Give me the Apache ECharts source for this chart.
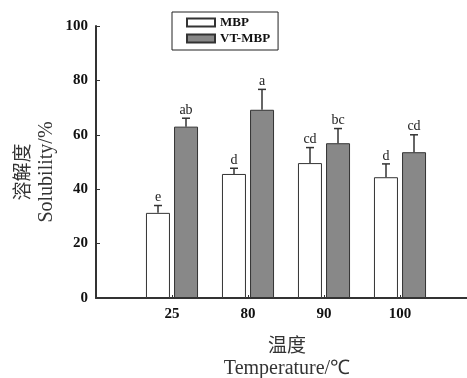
<!DOCTYPE html>
<html>
<head>
<meta charset="utf-8">
<script src="https://cdn.jsdelivr.net/npm/echarts@6/dist/echarts.min.js"></script>
<style>html,body{margin:0;padding:0;background:#fff;}#c{width:467px;height:378px;}</style>
</head>
<body>
<div id="c"></div>
<script>
const categories = ['', '25', '80', '90', '100', ''];
const mbpValues = [null, 31.3, 45.6, 49.6, 44.4, null];
const vtValues  = [null, 63.0, 69.2, 56.9, 53.6, null];
const mbpErrTop = [null, 34.0, 47.7, 55.3, 49.3, null];
const vtErrTop  = [null, 66.1, 76.7, 62.3, 60.0, null];
const mbpLetters = ['', 'e', 'd', 'cd', 'd', ''];
const vtLetters  = ['', 'ab', 'a', 'bc', 'cd', ''];
const yTicks = [0, 20, 40, 60, 80, 100];

const serif = '"Liberation Serif","Times New Roman",serif';
const cjk = '"Noto Sans CJK SC",sans-serif';

const errData = [];
categories.forEach((c, i) => {
  if (mbpValues[i] != null) errData.push([i, mbpValues[i], mbpErrTop[i], mbpLetters[i], -1]);
  if (vtValues[i] != null) errData.push([i, vtValues[i], vtErrTop[i], vtLetters[i], 1]);
});

const chart = echarts.init(document.getElementById('c'));
chart.setOption({
  animation: false,
  backgroundColor: '#fff',
  grid: { left: 96, width: 380, top: 26, height: 272, containLabel: false, outerBoundsMode: 'none' },
  legend: {
    orient: 'vertical', left: 172, top: 12,
    padding: [4, 8, 5, 14], itemGap: 3,
    itemWidth: 28, itemHeight: 8, icon: 'rect',
    borderColor: '#222', borderWidth: 1,
    textStyle: { fontFamily: serif, fontWeight: 'bold', fontSize: 13, color: '#111' },
    data: ['MBP', 'VT-MBP']
  },
  xAxis: {
    type: 'category', data: categories, boundaryGap: false,
    axisLine: { lineStyle: { color: '#333', width: 2 } },
    axisTick: { inside: true, length: 3, lineStyle: { color: '#333' }, interval: 0 },
    axisLabel: { fontFamily: serif, fontWeight: 'bold', fontSize: 15, color: '#111', margin: 9, interval: 0 },
    splitLine: { show: false }
  },
  yAxis: {
    type: 'value', min: yTicks[0], max: yTicks[yTicks.length - 1], interval: 20,
    axisLine: { show: true, lineStyle: { color: '#333', width: 2 } },
    axisTick: { show: true, inside: true, length: 4, lineStyle: { color: '#333' } },
    axisLabel: { fontFamily: serif, fontWeight: 'bold', fontSize: 15, color: '#111', margin: 8 },
    splitLine: { show: false }
  },
  graphic: [
    { type: 'text', x: 22, y: 172, rotation: Math.PI / 2,
      style: { text: '溶解度', font: '19px ' + cjk, fill: '#333', align: 'center', verticalAlign: 'middle' } },
    { type: 'text', x: 47, y: 172, rotation: Math.PI / 2,
      style: { text: 'Solubility/%', font: '20px ' + serif, fill: '#333', align: 'center', verticalAlign: 'middle' } },
    { type: 'text', x: 287, y: 345,
      style: { text: '温度', font: '19px ' + cjk, fill: '#333', align: 'center', verticalAlign: 'middle' } },
    { type: 'text', x: 287, y: 369,
      style: { text: 'Temperature/℃', font: '20px ' + serif, fill: '#333', align: 'center', verticalAlign: 'middle' } }
  ],
  series: [
    { name: 'MBP', type: 'bar', data: mbpValues, barWidth: 24, barGap: '17%',
      itemStyle: { color: '#fff', borderColor: '#333', borderWidth: 1 } },
    { name: 'VT-MBP', type: 'bar', data: vtValues, barWidth: 24, barGap: '17%',
      itemStyle: { color: '#888', borderColor: '#333', borderWidth: 1 } },
    { type: 'custom', data: errData, z: 5,
      renderItem: function (params, api) {
        const cat = api.value(0);
        const p0 = api.coord([cat, api.value(1)]);
        const p1 = api.coord([cat, api.value(2)]);
        const side = api.value(4);
        const x = p0[0] + side * 14;
        return { type: 'group', children: [
          { type: 'line', shape: { x1: x, y1: p0[1], x2: x, y2: p1[1] }, style: { stroke: '#333', lineWidth: 1.5 } },
          { type: 'line', shape: { x1: x - 4, y1: p1[1], x2: x + 4, y2: p1[1] }, style: { stroke: '#333', lineWidth: 1.5 } },
          { type: 'text', x: x, y: p1[1] - 1,
            style: { text: errData[params.dataIndex][3], font: '14px ' + serif, fill: '#222', align: 'center', verticalAlign: 'bottom' } }
        ] };
      }
    }
  ]
});
</script>
</body>
</html>
